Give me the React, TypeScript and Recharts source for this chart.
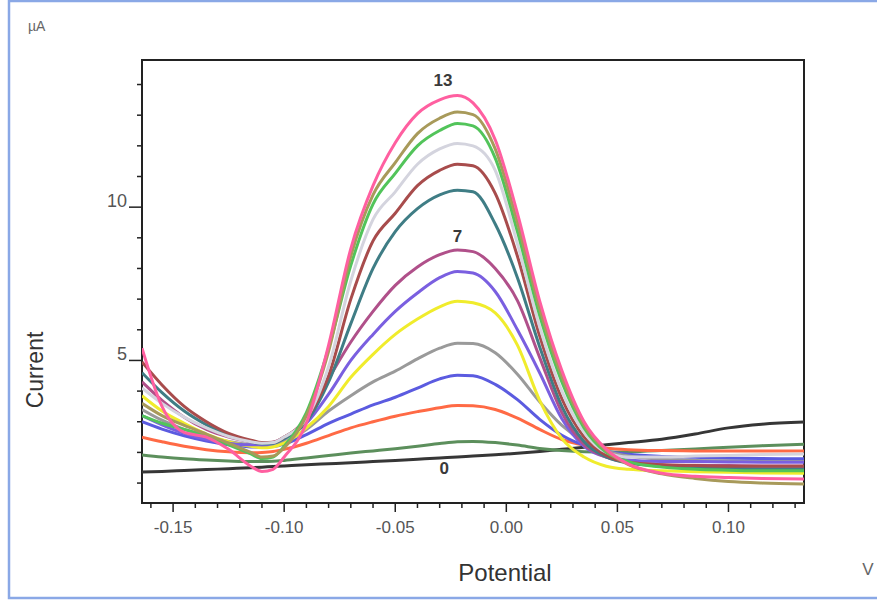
import React from "react";
import {
  LineChart,
  Line,
  XAxis,
  YAxis,
  ReferenceArea,
  ReferenceDot,
} from "recharts";

// potential (V) sample points shared by every scan
const potential = [
  -0.164, -0.155, -0.145, -0.135, -0.125, -0.115, -0.11, -0.105, -0.1, -0.09,
  -0.08, -0.07, -0.06, -0.05, -0.04, -0.03, -0.022, -0.015, -0.005, 0.005,
  0.015, 0.025, 0.035, 0.045, 0.055, 0.07, 0.085, 0.1, 0.115, 0.134,
];

// current (µA) for each scan, 0 .. 13
const scan0 = [1.36, 1.38, 1.41, 1.44, 1.47, 1.5, 1.52, 1.54, 1.56, 1.6, 1.63, 1.66, 1.7, 1.74, 1.78, 1.82, 1.85, 1.88, 1.92, 1.97, 2.03, 2.1, 2.17, 2.25, 2.32, 2.43, 2.6, 2.8, 2.92, 2.99];
const scan1 = [1.92, 1.85, 1.79, 1.75, 1.72, 1.7, 1.7, 1.71, 1.74, 1.82, 1.9, 1.98, 2.05, 2.12, 2.2, 2.29, 2.35, 2.36, 2.32, 2.24, 2.13, 2.06, 2.02, 2.01, 2.02, 2.06, 2.11, 2.17, 2.22, 2.27];
const scan2 = [2.5, 2.35, 2.2, 2.09, 2.02, 1.99, 2.0, 2.03, 2.1, 2.3, 2.55, 2.8, 3.0, 3.18, 3.33, 3.46, 3.53, 3.52, 3.4, 3.12, 2.75, 2.42, 2.24, 2.14, 2.09, 2.06, 2.05, 2.05, 2.05, 2.05];
const scan3 = [3.0, 2.76, 2.54, 2.37, 2.25, 2.18, 2.17, 2.19, 2.27, 2.58, 2.95, 3.25, 3.55, 3.8, 4.1, 4.4, 4.52, 4.5, 4.22, 3.72, 3.08, 2.56, 2.23, 2.04, 1.94, 1.87, 1.84, 1.81, 1.8, 1.79];
const scan4 = [3.4, 3.05, 2.75, 2.52, 2.36, 2.26, 2.24, 2.26, 2.35, 2.75, 3.35, 3.85, 4.3, 4.65, 5.05, 5.4, 5.56, 5.55, 5.25, 4.55, 3.65, 2.88, 2.35, 2.05, 1.88, 1.78, 1.74, 1.72, 1.7, 1.7];
const scan5 = [3.85, 3.35, 2.95, 2.6, 2.35, 2.2, 2.15, 2.18, 2.3, 2.8, 3.5, 4.45, 5.2, 5.85, 6.35, 6.75, 6.93, 6.88, 6.55, 5.5, 3.7, 2.45, 1.85, 1.55, 1.45, 1.4, 1.37, 1.35, 1.33, 1.32];
const scan6 = [3.2, 2.9, 2.62, 2.42, 2.3, 2.25, 2.25, 2.3, 2.45, 2.95, 3.9, 5.0, 5.85, 6.6, 7.2, 7.7, 7.9, 7.85, 7.25, 6.0, 4.6, 3.1, 2.2, 1.85, 1.75, 1.7, 1.7, 1.69, 1.68, 1.68];
const scan7 = [4.3, 3.7, 3.15, 2.75, 2.5, 2.35, 2.3, 2.33, 2.5, 3.1, 4.4, 5.6, 6.6, 7.45, 8.05, 8.45, 8.6, 8.55, 8.0, 6.95, 5.1, 3.3, 2.25, 1.85, 1.68, 1.6, 1.58, 1.57, 1.56, 1.56];
const scan8 = [4.6, 3.95, 3.35, 2.9, 2.55, 2.35, 2.28, 2.3, 2.45, 3.0, 4.3, 6.2, 8.0, 9.2, 9.95, 10.4, 10.55, 10.5, 9.45, 7.7, 5.45, 3.5, 2.35, 1.85, 1.65, 1.55, 1.5, 1.48, 1.47, 1.47];
const scan9 = [4.95, 4.2, 3.5, 3.0, 2.62, 2.4, 2.32, 2.33, 2.5, 3.1, 4.5, 7.0, 8.9, 9.8, 10.7, 11.2, 11.4, 11.35, 10.45, 8.4, 5.8, 3.75, 2.5, 1.9, 1.68, 1.6, 1.57, 1.55, 1.55, 1.55];
const scan10 = [4.1, 3.6, 3.15, 2.8, 2.52, 2.35, 2.3, 2.32, 2.5, 3.1, 4.8, 7.6, 9.6, 10.5, 11.4, 11.9, 12.08, 12.0, 11.2, 8.8, 6.1, 4.0, 2.65, 2.0, 1.85, 1.85, 1.88, 1.9, 1.93, 1.95];
const scan11 = [3.2, 2.95, 2.75, 2.55, 2.25, 1.95, 1.8, 1.85, 2.2, 3.3, 5.4, 8.1, 10.1, 11.1, 12.0, 12.5, 12.73, 12.65, 11.6, 9.2, 6.47, 4.3, 2.8, 2.0, 1.7, 1.52, 1.45, 1.42, 1.4, 1.4];
const scan12 = [3.6, 3.2, 2.88, 2.6, 2.3, 2.0, 1.85, 1.88, 2.15, 3.2, 5.3, 8.4, 10.4, 11.45, 12.4, 12.9, 13.1, 13.02, 11.9, 9.5, 6.7, 4.48, 2.9, 2.05, 1.6, 1.3, 1.15, 1.05, 1.0, 0.97];
const scan13 = [5.4, 3.5, 2.65, 2.5, 2.1, 1.55, 1.38, 1.45, 1.85, 2.95, 5.5, 8.65, 10.7, 12.1, 13.05, 13.5, 13.64, 13.4, 12.2, 9.8, 6.94, 4.67, 3.0, 2.1, 1.62, 1.32, 1.22, 1.18, 1.15, 1.13];

const scans = [scan0, scan1, scan2, scan3, scan4, scan5, scan6, scan7, scan8, scan9, scan10, scan11, scan12, scan13];

const xTicks = [
  -0.16, -0.15, -0.14, -0.13, -0.12, -0.11, -0.1, -0.09, -0.08, -0.07, -0.06,
  -0.05, -0.04, -0.03, -0.02, -0.01, 0, 0.01, 0.02, 0.03, 0.04, 0.05, 0.06,
  0.07, 0.08, 0.09, 0.1, 0.11, 0.12, 0.13,
];
const yTicks = [1, 2, 3, 4, 5, 6, 7, 8, 9, 10, 11, 12, 13, 14];

// curve labels (text, potential, current)
const curveLabels: [string, number, number][] = [
  ["13", -0.0285, 14.12],
  ["7", -0.022, 9.03],
  ["0", -0.028, 1.46],
];

const colors = [
  "#363636", "#5c8f5c", "#ff6a45", "#5b5be0", "#9a9a9a", "#f0ec2c", "#7a5fe0",
  "#b0508a", "#3f7d85", "#a84c4c", "#d4d4de", "#52c45a", "#a89a5a", "#ff5fa0",
];

const X_DOMAIN: [number, number] = [-0.164, 0.134];
const Y_DOMAIN: [number, number] = [0.35, 14.8];

const data = potential.map((x, i) => {
  const row: Record<string, number> = { x };
  scans.forEach((s, k) => {
    row["s" + k] = s[i];
  });
  return row;
});

const FONT = "'Liberation Sans', Arial, sans-serif";

const XTick = (props: any) => {
  const { x, y, payload } = props;
  const v: number = payload.value;
  const major = Math.round(v * 100) % 5 === 0;
  return (
    <g>
      <line x1={x} y1={y} x2={x} y2={y + (major ? 9 : 5)} stroke="#222" strokeWidth={1.5} />
      {major && (
        <text x={x} y={y + 30} textAnchor="middle" fontSize={17} fill="#555" fontFamily={FONT}>
          {v.toFixed(2)}
        </text>
      )}
    </g>
  );
};

const YTick = (props: any) => {
  const { x, y, payload } = props;
  const v: number = payload.value;
  const major = v % 5 === 0;
  return (
    <g>
      <line x1={x} y1={y} x2={x - (major ? 13 : 5)} y2={y} stroke="#222" strokeWidth={1.5} />
      {major && (
        <text x={x - 15} y={y} textAnchor="end" fontSize={18} fill="#555" fontFamily={FONT}>
          {v}
        </text>
      )}
    </g>
  );
};

export default function App() {
  return (
    <div style={{ position: "absolute", left: 0, top: 0, width: 877, height: 605, background: "#fff", overflow: "hidden" }}>
      <LineChart
        width={877}
        height={605}
        data={data}
        margin={{ top: 60, right: 73, bottom: 62, left: 82 }}
      >
        <XAxis
          type="number"
          dataKey="x"
          domain={X_DOMAIN}
          ticks={xTicks}
          interval={0}
          allowDataOverflow
          height={40}
          tickSize={0}
          tickMargin={0}
          tickLine={false}
          axisLine={false}
          tick={<XTick />}
        />
        <YAxis
          type="number"
          domain={Y_DOMAIN}
          ticks={yTicks}
          interval={0}
          allowDataOverflow
          width={60}
          tickSize={0}
          tickMargin={0}
          tickLine={false}
          axisLine={false}
          tick={<YTick />}
        />
        {scans.map((_, k) => (
          <Line
            key={k}
            type="monotone"
            dataKey={"s" + k}
            stroke={colors[k]}
            strokeWidth={3}
            dot={false}
            isAnimationActive={false}
          />
        ))}
        <ReferenceArea
          x1={X_DOMAIN[0]}
          x2={X_DOMAIN[1]}
          y1={Y_DOMAIN[0]}
          y2={Y_DOMAIN[1]}
          fill="none"
          fillOpacity={0}
          stroke="#222"
          strokeWidth={2}
          ifOverflow="visible"
        />
        {curveLabels.map(([t, x, y]) => (
          <ReferenceDot
            key={t}
            x={x}
            y={y}
            r={0}
            ifOverflow="visible"
            shape={(p: any) => (
              <text
                x={p.cx}
                y={p.cy}
                textAnchor="middle"
                dominantBaseline="central"
                fontSize={17}
                fontWeight="bold"
                fill="#3a3a3a"
                fontFamily={FONT}
              >
                {t}
              </text>
            )}
          />
        ))}
      </LineChart>
      <svg
        width={877}
        height={605}
        style={{ position: "absolute", left: 0, top: 0, pointerEvents: "none" }}
      >
        <rect x={9} y={1} width={900} height={597} fill="none" stroke="#8aa8e6" strokeWidth={2.5} />
        <text x={28} y={31} fontSize={14} fill="#666" fontFamily={FONT}>µA</text>
        <text
          x={43}
          y={370}
          transform="rotate(-90 43 370)"
          textAnchor="middle"
          fontSize={23}
          fill="#333"
          fontFamily={FONT}
        >
          Current
        </text>
        <text x={505} y={581} textAnchor="middle" fontSize={24} fill="#333" fontFamily={FONT}>
          Potential
        </text>
        <text x={868} y={575} textAnchor="middle" fontSize={17} fill="#666" fontFamily={FONT}>
          V
        </text>
      </svg>
    </div>
  );
}
